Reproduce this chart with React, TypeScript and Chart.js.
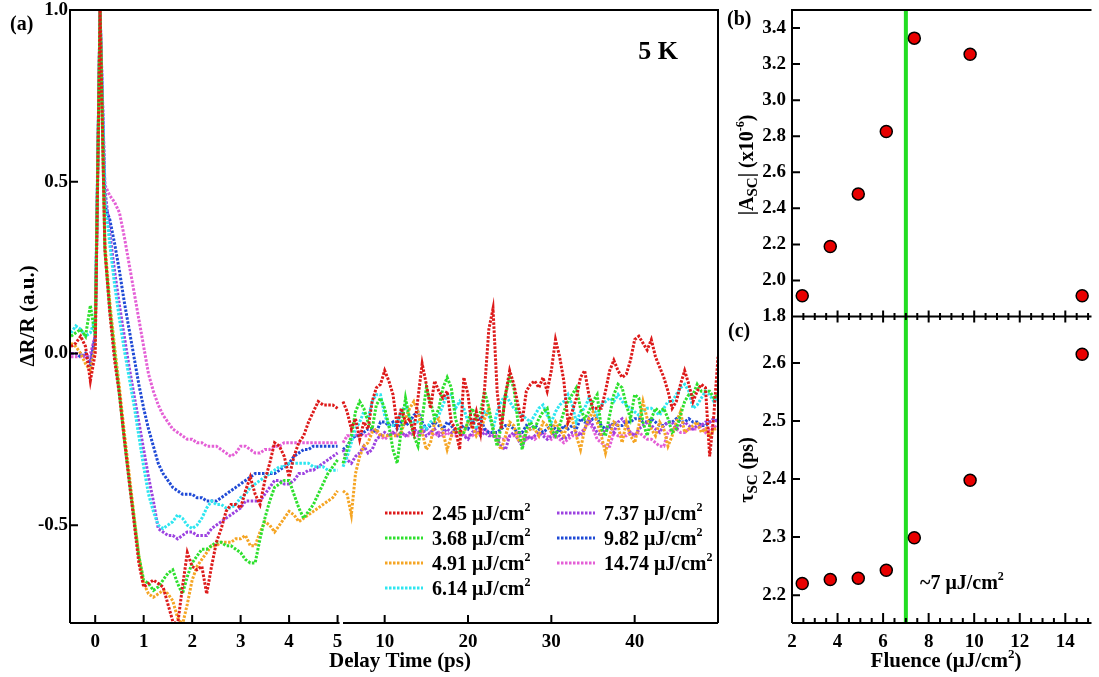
import React, { useEffect, useRef } from 'react';
import { Chart, registerables } from 'chart.js';
Chart.register(...registerables);

const FONT = "'Liberation Serif', 'Times New Roman', serif";
Chart.defaults.color = '#000';
Chart.defaults.font.family = FONT;

// ---------- Panel (a) data ----------
const fluenceLabels = ['2.45', '3.68', '4.91', '6.14', '7.37', '9.82', '14.74'];
const seriesColors = ['#dd1a1a', '#2ee02e', '#f5a524', '#2ee6f0', '#9c42e0', '#1f4ad6', '#e45fd6'];

const tLeft = [-0.5, -0.4, -0.3, -0.2, -0.1, 0, 0.1, 0.2, 0.3, 0.4,
  0.5, 0.6, 0.7, 0.8, 0.9, 1, 1.1, 1.2, 1.3, 1.4,
  1.5, 1.6, 1.7, 1.8, 1.9, 2, 2.1, 2.2, 2.3, 2.4,
  2.5, 2.6, 2.7, 2.8, 2.9, 3, 3.1, 3.2, 3.3, 3.4,
  3.5, 3.6, 3.7, 3.8, 3.9, 4, 4.1, 4.2, 4.3, 4.4,
  4.5, 4.6, 4.7, 4.8, 4.9, 5];

const tRight = [5, 5.5, 6, 6.5, 7, 7.5, 8, 8.5, 9, 9.5,
  10, 10.5, 11, 11.5, 12, 12.5, 13, 13.5, 14, 14.5,
  15, 15.5, 16, 16.5, 17, 17.5, 18, 18.5, 19, 19.5,
  20, 20.5, 21, 21.5, 22, 22.5, 23, 23.5, 24, 24.5,
  25, 25.5, 26, 26.5, 27, 27.5, 28, 28.5, 29, 29.5,
  30, 30.5, 31, 31.5, 32, 32.5, 33, 33.5, 34, 34.5,
  35, 35.5, 36, 36.5, 37, 37.5, 38, 38.5, 39, 39.5,
  40, 40.5, 41, 41.5, 42, 42.5, 43, 43.5, 44, 44.5,
  45, 45.5, 46, 46.5, 47, 47.5, 48, 48.5, 49, 49.5,
  50];

const f245Left = [0.02, 0.03, 0.05, 0.02, -0.08, 0.0, 1.0, 0.3, 0.12, -0.02,
  -0.12, -0.25, -0.37, -0.49, -0.61, -0.68, -0.67, -0.66, -0.67, -0.68,
  -0.73, -0.78, -0.79, -0.68, -0.58, -0.62, -0.63, -0.62, -0.70, -0.62,
  -0.55, -0.51, -0.46, -0.44, -0.44, -0.45, -0.40, -0.36, -0.41, -0.44,
  -0.37, -0.32, -0.26, -0.27, -0.30, -0.36, -0.30, -0.26, -0.24, -0.20,
  -0.17, -0.14, -0.15, -0.15, -0.15, -0.16];
const f368Left = [0.05, 0.06, 0.07, 0.05, 0.14, 0.05, 1.0, 0.3, 0.13, 0.0,
  -0.12, -0.25, -0.37, -0.48, -0.59, -0.66, -0.67, -0.69, -0.68, -0.66,
  -0.64, -0.63, -0.67, -0.70, -0.65, -0.61, -0.59, -0.57, -0.57, -0.56,
  -0.55, -0.55, -0.56, -0.56, -0.57, -0.58, -0.60, -0.61, -0.61, -0.54,
  -0.48, -0.43, -0.39, -0.38, -0.37, -0.37, -0.41, -0.45, -0.48, -0.46,
  -0.44, -0.41, -0.38, -0.35, -0.33, -0.31];
const f491Left = [0.03, 0.02, 0.0, -0.03, -0.05, 0.02, 1.0, 0.32, 0.15, 0.02,
  -0.10, -0.23, -0.35, -0.47, -0.59, -0.67, -0.70, -0.71, -0.70, -0.69,
  -0.70, -0.72, -0.77, -0.79, -0.73, -0.66, -0.62, -0.60, -0.58, -0.56,
  -0.56, -0.55, -0.55, -0.55, -0.54, -0.54, -0.53, -0.56, -0.56, -0.52,
  -0.49, -0.50, -0.52, -0.50, -0.48, -0.46, -0.47, -0.49, -0.48, -0.47,
  -0.46, -0.45, -0.44, -0.43, -0.42, -0.40];
const f614Left = [0.06, 0.08, 0.07, 0.05, 0.06, 0.10, 1.0, 0.45, 0.32, 0.20,
  0.10, 0.01, -0.07, -0.15, -0.24, -0.33, -0.41, -0.46, -0.50, -0.51,
  -0.50, -0.49, -0.47, -0.48, -0.50, -0.51, -0.50, -0.48, -0.45, -0.43,
  -0.44, -0.44, -0.45, -0.45, -0.44, -0.42, -0.41, -0.39, -0.38, -0.37,
  -0.36, -0.35, -0.34, -0.33, -0.33, -0.32, -0.32, -0.32, -0.32, -0.32,
  -0.33, -0.33, -0.33, -0.34, -0.34, -0.34];
const f737Left = [0.0, 0.0, 0.0, -0.01, -0.02, 0.05, 1.0, 0.48, 0.35, 0.24,
  0.14, 0.05, -0.04, -0.12, -0.20, -0.28, -0.36, -0.43, -0.51, -0.52,
  -0.53, -0.53, -0.54, -0.53, -0.52, -0.52, -0.53, -0.53, -0.53, -0.51,
  -0.50, -0.49, -0.48, -0.47, -0.46, -0.45, -0.43, -0.43, -0.43, -0.43,
  -0.41, -0.39, -0.37, -0.37, -0.38, -0.38, -0.37, -0.35, -0.35, -0.34,
  -0.34, -0.33, -0.32, -0.31, -0.30, -0.29];
const f982Left = [0.0, 0.0, -0.01, 0.0, -0.03, 0.05, 1.0, 0.43, 0.39, 0.32,
  0.24, 0.15, 0.07, -0.01, -0.09, -0.16, -0.22, -0.27, -0.32, -0.35,
  -0.37, -0.39, -0.40, -0.41, -0.41, -0.41, -0.42, -0.42, -0.43, -0.43,
  -0.43, -0.42, -0.41, -0.40, -0.39, -0.38, -0.37, -0.36, -0.35, -0.35,
  -0.35, -0.35, -0.35, -0.34, -0.33, -0.32, -0.30, -0.29, -0.28, -0.28,
  -0.27, -0.27, -0.27, -0.27, -0.27, -0.27];
const f1474Left = [-0.01, -0.01, -0.01, -0.01, 0.0, 0.05, 1.0, 0.49, 0.46, 0.44,
  0.41, 0.34, 0.26, 0.18, 0.10, 0.02, -0.06, -0.11, -0.15, -0.18,
  -0.20, -0.22, -0.23, -0.24, -0.25, -0.25, -0.26, -0.26, -0.27, -0.27,
  -0.27, -0.28, -0.29, -0.30, -0.29, -0.27, -0.27, -0.28, -0.29, -0.29,
  -0.28, -0.28, -0.27, -0.27, -0.26, -0.26, -0.26, -0.26, -0.26, -0.26,
  -0.26, -0.26, -0.26, -0.26, -0.26, -0.26];

const f245Right = [-0.14, -0.17, -0.22, -0.19, -0.25, -0.20, -0.22, -0.14, -0.10, -0.09,
  -0.05, -0.08, -0.12, -0.21, -0.16, -0.20, -0.19, -0.23, -0.13, -0.03,
  -0.09, -0.16, -0.08, -0.11, -0.13, -0.11, -0.20, -0.22, -0.28, -0.07,
  -0.12, -0.22, -0.17, -0.23, -0.10, 0.07, 0.13, -0.11, -0.22, -0.12,
  -0.05, -0.09, -0.15, -0.20, -0.11, -0.09, -0.08, -0.10, -0.07, -0.11,
  -0.05, 0.04, -0.01, -0.08, -0.20, -0.17, -0.13, -0.07, -0.05, -0.12,
  -0.16, -0.16, -0.16, -0.11, -0.05, -0.02, -0.05, -0.07, -0.06, -0.02,
  0.04, 0.05, 0.03, 0.01, 0.04, -0.01, -0.04, -0.07, -0.11, -0.16,
  -0.14, -0.09, -0.05, -0.09, -0.14, -0.11, -0.09, -0.10, -0.30, -0.18,
  -0.01];
const f368Right = [-0.32, -0.28, -0.24, -0.17, -0.14, -0.16, -0.20, -0.22, -0.15, -0.13,
  -0.16, -0.21, -0.28, -0.32, -0.22, -0.13, -0.19, -0.24, -0.27, -0.19,
  -0.10, -0.14, -0.19, -0.16, -0.10, -0.07, -0.10, -0.19, -0.23, -0.23,
  -0.20, -0.16, -0.19, -0.17, -0.11, -0.16, -0.22, -0.27, -0.21, -0.12,
  -0.07, -0.10, -0.20, -0.28, -0.22, -0.20, -0.22, -0.19, -0.17, -0.16,
  -0.22, -0.24, -0.21, -0.17, -0.14, -0.12, -0.10, -0.16, -0.19, -0.17,
  -0.14, -0.12, -0.22, -0.24, -0.18, -0.12, -0.09, -0.10, -0.15, -0.19,
  -0.12, -0.13, -0.20, -0.24, -0.19, -0.16, -0.17, -0.16, -0.19, -0.23,
  -0.22, -0.18, -0.14, -0.12, -0.12, -0.09, -0.11, -0.11, -0.11, -0.13,
  -0.12];
const f491Right = [-0.40, -0.41, -0.47, -0.35, -0.30, -0.27, -0.26, -0.23, -0.22, -0.24,
  -0.24, -0.24, -0.24, -0.24, -0.23, -0.19, -0.16, -0.14, -0.17, -0.23,
  -0.28, -0.26, -0.20, -0.19, -0.23, -0.28, -0.24, -0.22, -0.23, -0.23,
  -0.20, -0.21, -0.24, -0.22, -0.19, -0.16, -0.22, -0.26, -0.28, -0.24,
  -0.20, -0.21, -0.25, -0.26, -0.23, -0.22, -0.22, -0.24, -0.20, -0.21,
  -0.23, -0.20, -0.22, -0.24, -0.20, -0.19, -0.24, -0.28, -0.22, -0.19,
  -0.17, -0.20, -0.24, -0.29, -0.24, -0.20, -0.21, -0.26, -0.20, -0.24,
  -0.26, -0.21, -0.14, -0.19, -0.22, -0.24, -0.20, -0.22, -0.27, -0.24,
  -0.20, -0.17, -0.23, -0.22, -0.21, -0.20, -0.23, -0.22, -0.24, -0.22,
  -0.22];
const f614Right = [-0.33, -0.30, -0.26, -0.22, -0.20, -0.17, -0.19, -0.14, -0.12, -0.12,
  -0.18, -0.21, -0.21, -0.20, -0.17, -0.15, -0.19, -0.20, -0.20, -0.21,
  -0.22, -0.20, -0.19, -0.18, -0.15, -0.12, -0.12, -0.16, -0.14, -0.16,
  -0.20, -0.19, -0.22, -0.20, -0.17, -0.18, -0.22, -0.17, -0.14, -0.12,
  -0.14, -0.16, -0.17, -0.18, -0.19, -0.20, -0.18, -0.16, -0.15, -0.18,
  -0.20, -0.17, -0.15, -0.14, -0.12, -0.15, -0.20, -0.17, -0.16, -0.13,
  -0.16, -0.18, -0.15, -0.14, -0.13, -0.14, -0.12, -0.14, -0.15, -0.16,
  -0.17, -0.18, -0.17, -0.16, -0.16, -0.17, -0.18, -0.16, -0.14, -0.14,
  -0.12, -0.10, -0.09, -0.11, -0.16, -0.15, -0.13, -0.11, -0.12, -0.14,
  -0.13];
const f737Right = [-0.28, -0.31, -0.32, -0.30, -0.29, -0.27, -0.29, -0.28, -0.25, -0.24,
  -0.23, -0.24, -0.23, -0.24, -0.23, -0.24, -0.23, -0.22, -0.23, -0.22,
  -0.24, -0.23, -0.22, -0.24, -0.23, -0.22, -0.23, -0.23, -0.23, -0.24,
  -0.25, -0.23, -0.22, -0.24, -0.23, -0.24, -0.24, -0.25, -0.27, -0.28,
  -0.24, -0.23, -0.25, -0.27, -0.24, -0.25, -0.24, -0.23, -0.24, -0.25,
  -0.24, -0.23, -0.24, -0.25, -0.24, -0.23, -0.23, -0.24, -0.22, -0.19,
  -0.21, -0.23, -0.24, -0.22, -0.21, -0.23, -0.20, -0.19, -0.21, -0.23,
  -0.24, -0.22, -0.21, -0.20, -0.21, -0.22, -0.23, -0.21, -0.20, -0.20,
  -0.22, -0.21, -0.20, -0.21, -0.22, -0.21, -0.21, -0.20, -0.20, -0.19,
  -0.20];
const f982Right = [-0.28, -0.27, -0.25, -0.24, -0.24, -0.23, -0.22, -0.22, -0.23, -0.20,
  -0.20, -0.21, -0.20, -0.22, -0.20, -0.21, -0.20, -0.18, -0.17, -0.20,
  -0.22, -0.21, -0.20, -0.21, -0.22, -0.20, -0.21, -0.23, -0.22, -0.21,
  -0.22, -0.20, -0.19, -0.19, -0.22, -0.23, -0.23, -0.23, -0.22, -0.21,
  -0.21, -0.22, -0.23, -0.23, -0.21, -0.22, -0.21, -0.22, -0.23, -0.22,
  -0.21, -0.22, -0.23, -0.21, -0.22, -0.21, -0.22, -0.19, -0.20, -0.20,
  -0.19, -0.19, -0.21, -0.22, -0.22, -0.20, -0.21, -0.21, -0.20, -0.20,
  -0.19, -0.19, -0.20, -0.20, -0.19, -0.20, -0.21, -0.21, -0.20, -0.20,
  -0.19, -0.20, -0.20, -0.19, -0.20, -0.20, -0.21, -0.21, -0.20, -0.19,
  -0.20];
const f1474Right = [-0.26, -0.24, -0.24, -0.24, -0.23, -0.24, -0.24, -0.22, -0.23, -0.24,
  -0.25, -0.24, -0.23, -0.24, -0.23, -0.24, -0.24, -0.23, -0.24, -0.23,
  -0.22, -0.23, -0.24, -0.23, -0.24, -0.23, -0.24, -0.24, -0.23, -0.24,
  -0.24, -0.24, -0.23, -0.23, -0.22, -0.23, -0.24, -0.24, -0.25, -0.25,
  -0.24, -0.24, -0.23, -0.24, -0.25, -0.24, -0.25, -0.24, -0.23, -0.24,
  -0.25, -0.24, -0.25, -0.26, -0.25, -0.24, -0.24, -0.23, -0.22, -0.20,
  -0.22, -0.25, -0.26, -0.27, -0.27, -0.23, -0.24, -0.24, -0.24, -0.23,
  -0.24, -0.23, -0.24, -0.25, -0.25, -0.26, -0.27, -0.27, -0.23, -0.22,
  -0.22, -0.23, -0.23, -0.22, -0.22, -0.22, -0.21, -0.23, -0.22, -0.21,
  -0.22];

const seriesLeft = [f245Left, f368Left, f491Left, f614Left, f737Left, f982Left, f1474Left];
const seriesRight = [f245Right, f368Right, f491Right, f614Right, f737Right, f982Right, f1474Right];

const yTicksA = [-0.5, 0, 0.5, 1.0];
const xTicksLeft = [0, 1, 2, 3, 4, 5];
const xTicksRight = [10, 20, 30, 40];
const yRangeA = [-0.785, 1.0];
const xRangeLeft = [-0.52, 5.05];
const xRangeRight = [4.64, 50];
const axisBreak = 5;

// ---------- Panels (b) and (c) data ----------
const fluence = [2.45, 3.68, 4.91, 6.14, 7.37, 9.82, 14.74];
const ampSC = [1.915, 2.188, 2.48, 2.826, 3.344, 3.255, 1.915];
const tauSC = [2.22, 2.227, 2.229, 2.243, 2.299, 2.398, 2.615];
const thresholdFluence = 7;
const yTicksB = [1.8, 2.0, 2.2, 2.4, 2.6, 2.8, 3.0, 3.2, 3.4];
const yTicksC = [2.2, 2.3, 2.4, 2.5, 2.6];
const xTicksFluence = [2, 4, 6, 8, 10, 12, 14];
const yRangeB = [1.8, 3.5];
const yRangeC = [2.152, 2.68];
const xRangeFluence = [2, 15.15];
const minorStepFluence = 0.5;

type Seg = { t: string; k?: 'sub' | 'sup' };

function drawRich(ctx: CanvasRenderingContext2D, segs: Seg[], x: number, y: number, size: number, align: 'left' | 'center' = 'center') {
  const fontOf = (k?: string) => `bold ${k === 'sub' ? Math.round(size * 0.75) : k === 'sup' ? Math.round(size * 0.6) : size}px ${FONT}`;
  const widths = segs.map((s) => { ctx.font = fontOf(s.k); return ctx.measureText(s.t).width; });
  const total = widths.reduce((a, b) => a + b, 0);
  let cx = align === 'center' ? x - total / 2 : x;
  ctx.textAlign = 'left';
  ctx.textBaseline = 'alphabetic';
  ctx.fillStyle = '#000';
  const base = y + size * 0.33;
  segs.forEach((s, i) => {
    ctx.font = fontOf(s.k);
    const dy = s.k === 'sub' ? size * 0.22 : s.k === 'sup' ? -size * 0.42 : 0;
    ctx.fillText(s.t, cx, base + dy);
    cx += widths[i];
  });
}

function drawRotated(ctx: CanvasRenderingContext2D, segs: Seg[], x: number, y: number, size: number) {
  ctx.save();
  ctx.translate(x, y);
  ctx.rotate(-Math.PI / 2);
  drawRich(ctx, segs, 0, 0, size, 'center');
  ctx.restore();
}

const tickFont = { family: FONT, size: 19, weight: 'bold' as const };

const zeroPad = (s: any) => {
  s.paddingTop = 0;
  s.paddingBottom = 0;
  s.paddingLeft = 0;
  s.paddingRight = 0;
};

const panelAPlugin = {
  id: 'panelA',
  afterDraw(chart: any) {
    const { ctx, chartArea: a, scales } = chart;
    const xL = scales.xL, xR = scales.xR, y = scales.y;
    ctx.save();
    ctx.strokeStyle = '#000';
    ctx.lineWidth = 2;
    ctx.setLineDash([]);
    ctx.beginPath();
    ctx.moveTo(a.left, a.bottom);
    ctx.lineTo(a.left, a.top);
    ctx.lineTo(a.right, a.top);
    ctx.lineTo(a.right, a.bottom);
    ctx.moveTo(a.left, a.bottom);
    ctx.lineTo(xL.getPixelForValue(axisBreak) + 2, a.bottom);
    ctx.moveTo(xR.getPixelForValue(axisBreak), a.bottom);
    ctx.lineTo(a.right, a.bottom);
    for (const t of y.ticks) {
      const p = y.getPixelForValue(t.value);
      ctx.moveTo(a.left, p);
      ctx.lineTo(a.left + 8, p);
    }
    for (const s of [xL, xR]) {
      for (const t of s.ticks) {
        const p = s.getPixelForValue(t.value);
        ctx.moveTo(p, a.bottom);
        ctx.lineTo(p, a.bottom - 8);
      }
    }
    ctx.stroke();

    // legend
    const lx = 385, ly = 513, rowH = 25, colW = 172, sample = 38;
    fluenceLabels.forEach((lab, i) => {
      const col = i < 4 ? 0 : 1;
      const row = i < 4 ? i : i - 4;
      const x0 = lx + col * colW;
      const y0 = ly + row * rowH;
      ctx.save();
      ctx.strokeStyle = seriesColors[i];
      ctx.lineWidth = 3;
      ctx.setLineDash([2.5, 1.5]);
      ctx.beginPath();
      ctx.moveTo(x0, y0);
      ctx.lineTo(x0 + sample, y0);
      ctx.stroke();
      ctx.restore();
      drawRich(ctx, [{ t: `${lab} μJ/cm` }, { t: '2', k: 'sup' }], x0 + sample + 9, y0, 20, 'left');
    });

    drawRich(ctx, [{ t: '(a)' }], 10, 23, 20, 'left');
    drawRich(ctx, [{ t: '5 K' }], 658, 50, 26, 'center');
    drawRotated(ctx, [{ t: 'ΔR/R (a.u.)' }], 27, 316, 21);
    drawRich(ctx, [{ t: 'Delay Time (ps)' }], 400, 660, 21, 'center');
    ctx.restore();
  },
};

const panelBCPlugin = {
  id: 'panelBC',
  afterDraw(chart: any) {
    const { ctx, chartArea: a, scales } = chart;
    const x = scales.x, yB = scales.yB, yC = scales.yC;
    const mid = yB.bottom;
    ctx.save();
    ctx.strokeStyle = '#000';
    ctx.lineWidth = 2;
    ctx.setLineDash([]);
    ctx.beginPath();
    ctx.moveTo(a.left, a.bottom);
    ctx.lineTo(a.left, a.top);
    ctx.lineTo(a.right, a.top);
    ctx.moveTo(a.left, mid);
    ctx.lineTo(a.right, mid);
    ctx.moveTo(a.left, a.bottom);
    ctx.lineTo(a.right, a.bottom);
    for (const s of [yB, yC]) {
      for (const t of s.ticks) {
        const p = s.getPixelForValue(t.value);
        ctx.moveTo(a.left, p);
        ctx.lineTo(a.left + 8, p);
      }
    }
    const majors = x.ticks.map((t: any) => t.value);
    for (let k = 0; ; k++) {
      const v = xRangeFluence[0] + k * minorStepFluence;
      if (v > x.max) break;
      const p = x.getPixelForValue(v);
      const isMajor = majors.some((m: number) => Math.abs(m - v) < 1e-6);
      const h = isMajor ? 6 : 3.5;
      ctx.moveTo(p, mid - h);
      ctx.lineTo(p, mid + h);
      ctx.moveTo(p, a.bottom);
      ctx.lineTo(p, a.bottom - (isMajor ? 10 : 5));
    }
    ctx.stroke();

    drawRich(ctx, [{ t: '(b)' }], 727, 18, 20, 'left');
    drawRich(ctx, [{ t: '(c)' }], 728, 330, 20, 'left');
    drawRich(ctx, [{ t: '~7 μJ/cm' }, { t: '2', k: 'sup' }], 920, 582, 20, 'left');
    drawRotated(ctx, [{ t: '|A' }, { t: 'SC', k: 'sub' }, { t: '| (x10' }, { t: '-6', k: 'sup' }, { t: ')' }], 746, 165, 20);
    drawRotated(ctx, [{ t: 'τ' }, { t: 'SC', k: 'sub' }, { t: ' (ps)' }], 746, 470, 20);
    drawRich(ctx, [{ t: 'Fluence (μJ/cm' }, { t: '2', k: 'sup' }, { t: ')' }], 946, 660, 21, 'center');
    ctx.restore();
  },
};

export default function App() {
  const refA = useRef<HTMLCanvasElement>(null);
  const refB = useRef<HTMLCanvasElement>(null);

  useEffect(() => {
    const lineStyle = (i: number) => ({
      borderColor: seriesColors[i],
      backgroundColor: seriesColors[i],
      borderWidth: 3,
      borderDash: [2.5, 1.5],
      borderCapStyle: 'butt',
      pointRadius: 0,
      showLine: true,
      tension: 0,
      clip: 0,
    });
    const datasetsA: any[] = [];
    seriesLeft.forEach((vals, i) => {
      datasetsA.push({
        label: `${fluenceLabels[i]} μJ/cm²`,
        data: tLeft.map((t, j) => ({ x: t, y: vals[j] })),
        xAxisID: 'xL',
        yAxisID: 'y',
        ...lineStyle(i),
      });
    });
    seriesRight.forEach((vals, i) => {
      datasetsA.push({
        label: `${fluenceLabels[i]} μJ/cm²`,
        data: tRight.map((t, j) => ({ x: t, y: vals[j] })),
        xAxisID: 'xR',
        yAxisID: 'y',
        ...lineStyle(i),
      });
    });

    const chartA = new Chart(refA.current as HTMLCanvasElement, {
      type: 'scatter',
      data: { datasets: datasetsA },
      options: {
        responsive: false,
        animation: false,
        devicePixelRatio: 1,
        events: [],
        layout: { padding: { left: 0, top: 10, right: 381, bottom: 0 } },
        plugins: { legend: { display: false }, tooltip: { enabled: false } },
        scales: {
          xL: {
            type: 'linear', axis: 'x', position: 'bottom', stack: 'delay', stackWeight: 270, weight: 0,
            min: xRangeLeft[0], max: xRangeLeft[1],
            grid: { display: false, drawTicks: false }, border: { display: false },
            ticks: { font: tickFont, color: '#000', padding: 8, autoSkip: false, maxRotation: 0, callback: (v: any) => String(v) },
            afterBuildTicks: (s: any) => { s.ticks = xTicksLeft.map((v) => ({ value: v })); },
            afterFit: (s: any) => { s.height = 54; zeroPad(s); },
          },
          xR: {
            type: 'linear', axis: 'x', position: 'bottom', stack: 'delay', stackWeight: 378, weight: 1,
            min: xRangeRight[0], max: xRangeRight[1],
            grid: { display: false, drawTicks: false }, border: { display: false },
            ticks: { font: tickFont, color: '#000', padding: 8, autoSkip: false, maxRotation: 0, callback: (v: any) => String(v) },
            afterBuildTicks: (s: any) => { s.ticks = xTicksRight.map((v) => ({ value: v })); },
            afterFit: (s: any) => { s.height = 54; zeroPad(s); },
          },
          y: {
            type: 'linear', axis: 'y', position: 'left',
            min: yRangeA[0], max: yRangeA[1],
            grid: { display: false, drawTicks: false }, border: { display: false },
            ticks: { font: tickFont, color: '#000', padding: 2, autoSkip: false, callback: (v: any) => Number(v).toFixed(1) },
            afterBuildTicks: (s: any) => { s.ticks = yTicksA.map((v) => ({ value: v })); },
            afterFit: (s: any) => { s.width = 70; zeroPad(s); },
          },
        },
      } as any,
      plugins: [panelAPlugin],
    });

    const markerStyle = {
      pointRadius: 6,
      pointBackgroundColor: '#e80000',
      pointBorderColor: '#000',
      pointBorderWidth: 1.5,
      showLine: false,
    };
    const green = '#22dd22';
    const chartB = new Chart(refB.current as HTMLCanvasElement, {
      type: 'scatter',
      data: {
        datasets: [
          { data: fluence.map((f, i) => ({ x: f, y: ampSC[i] })), xAxisID: 'x', yAxisID: 'yB', ...markerStyle },
          { data: fluence.map((f, i) => ({ x: f, y: tauSC[i] })), xAxisID: 'x', yAxisID: 'yC', ...markerStyle },
          {
            data: yRangeB.map((v) => ({ x: thresholdFluence, y: v })), xAxisID: 'x', yAxisID: 'yB',
            showLine: true, borderColor: green, borderWidth: 4, pointRadius: 0, clip: 0,
          },
          {
            data: yRangeC.map((v) => ({ x: thresholdFluence, y: v })), xAxisID: 'x', yAxisID: 'yC',
            showLine: true, borderColor: green, borderWidth: 4, pointRadius: 0, clip: 0,
          },
        ],
      },
      options: {
        responsive: false,
        animation: false,
        devicePixelRatio: 1,
        events: [],
        layout: { padding: { left: 740, top: 10, right: 0, bottom: 0 } },
        plugins: { legend: { display: false }, tooltip: { enabled: false } },
        scales: {
          x: {
            type: 'linear', axis: 'x', position: 'bottom',
            min: xRangeFluence[0], max: xRangeFluence[1],
            grid: { display: false, drawTicks: false }, border: { display: false },
            ticks: { font: tickFont, color: '#000', padding: 8, autoSkip: false, maxRotation: 0, callback: (v: any) => String(v) },
            afterBuildTicks: (s: any) => { s.ticks = xTicksFluence.map((v) => ({ value: v })); },
            afterFit: (s: any) => { s.height = 54; zeroPad(s); },
          },
          yB: {
            type: 'linear', axis: 'y', position: 'left', stack: 'fluence', stackWeight: 1, weight: 2,
            min: yRangeB[0], max: yRangeB[1],
            grid: { display: false, drawTicks: false }, border: { display: false },
            ticks: { font: tickFont, color: '#000', padding: 6, autoSkip: false, callback: (v: any) => Number(v).toFixed(1) },
            afterBuildTicks: (s: any) => { s.ticks = yTicksB.map((v) => ({ value: v })); },
            afterFit: (s: any) => { s.width = 52; zeroPad(s); },
          },
          yC: {
            type: 'linear', axis: 'y', position: 'left', stack: 'fluence', stackWeight: 1, weight: 1,
            min: yRangeC[0], max: yRangeC[1],
            grid: { display: false, drawTicks: false }, border: { display: false },
            ticks: { font: tickFont, color: '#000', padding: 6, autoSkip: false, callback: (v: any) => Number(v).toFixed(1) },
            afterBuildTicks: (s: any) => { s.ticks = yTicksC.map((v) => ({ value: v })); },
            afterFit: (s: any) => { s.width = 52; zeroPad(s); },
          },
        },
      } as any,
      plugins: [panelBCPlugin],
    });

    return () => {
      chartA.destroy();
      chartB.destroy();
    };
  }, []);

  return (
    <div style={{ position: 'fixed', left: 0, top: 0, width: 1099, height: 677, background: '#fff', overflow: 'hidden' }}>
      <canvas ref={refA} width={1099} height={677} style={{ position: 'absolute', left: 0, top: 0 }} />
      <canvas ref={refB} width={1099} height={677} style={{ position: 'absolute', left: 0, top: 0 }} />
    </div>
  );
}
